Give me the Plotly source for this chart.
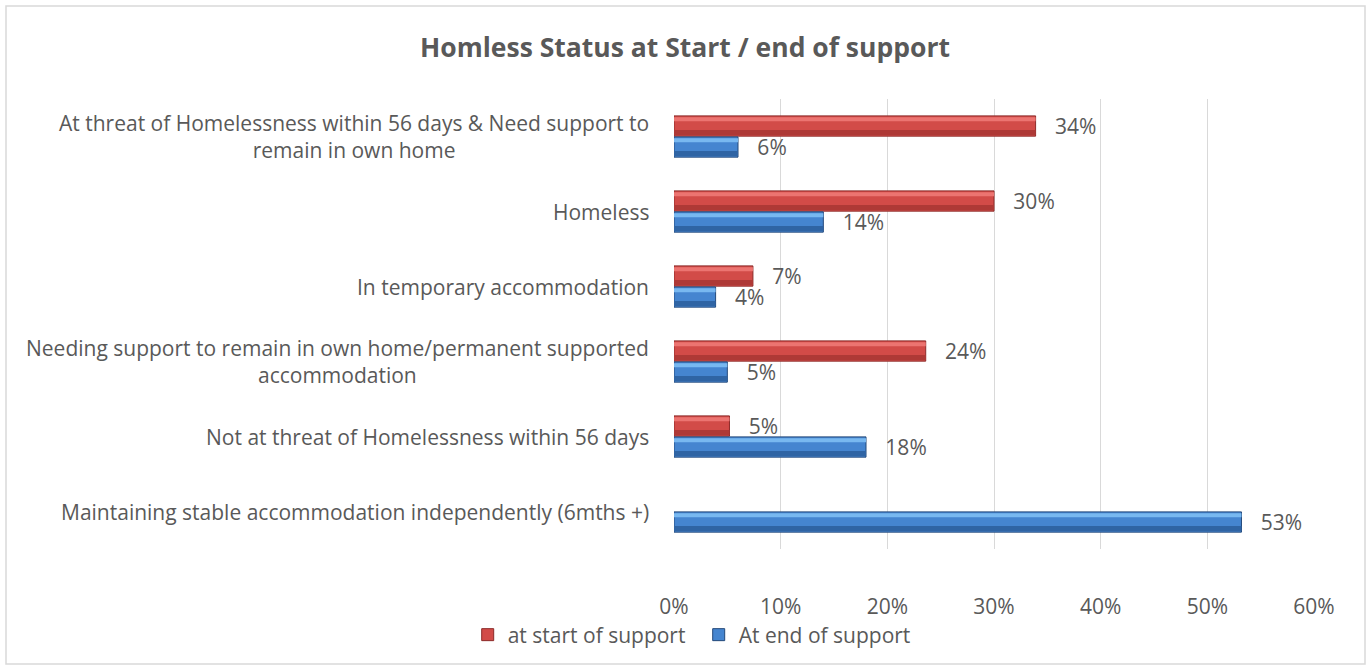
import plotly.graph_objects as go

# Categories, top to bottom
categories = [
    "At threat of Homelessness within 56 days & Need support to<br>remain in own home",
    "Homeless",
    "In temporary accommodation",
    "Needing support to remain in own home/permanent supported<br>accommodation",
    "Not at threat of Homelessness within 56 days",
    "Maintaining stable accommodation independently (6mths +)",
]
start_of_support = [0.339, 0.300, 0.074, 0.236, 0.052, None]
end_of_support = [0.060, 0.140, 0.039, 0.050, 0.180, 0.532]
x_ticks = [0, 0.1, 0.2, 0.3, 0.4, 0.5, 0.6]

FONT = "Open Sans"
GREY = "#595959"
W, H = 1370, 670
ML, MR, MT, MB = 674, 56, 99, 121

BAR_W = 0.27   # thickness of one bar in category units
GAP = 0.01

series = [
    dict(name="at start of support", values=start_of_support, offset=-BAR_W - GAP / 2,
         dark="#AE3936", mid="#D24B48", light="#EC7471", edge="#8C2B29"),
    dict(name="At end of support", values=end_of_support, offset=GAP / 2,
         dark="#2F64A4", mid="#4585D0", light="#78B8F0", edge="#23497A"),
]

fig = go.Figure()
for s in series:
    # body of the bar, carries the legend entry and the value label
    fig.add_trace(go.Bar(
        y=categories, x=s["values"], orientation="h", name=s["name"],
        offset=s["offset"], width=BAR_W,
        marker=dict(color=s["mid"], line=dict(color=s["edge"], width=1)),
        texttemplate="\u00a0\u00a0\u00a0%{x:.0%}", textposition="outside",
        constraintext="none",
        textfont=dict(family=FONT, size=21, color=GREY), cliponaxis=False,
    ))
    # lower shade strip
    fig.add_trace(go.Bar(
        y=categories, x=s["values"], orientation="h", showlegend=False, hoverinfo="skip",
        offset=s["offset"] + BAR_W * 0.70, width=BAR_W * 0.25,
        marker=dict(color=s["dark"], line=dict(width=0)),
    ))
    # upper highlight strip
    fig.add_trace(go.Bar(
        y=categories, x=s["values"], orientation="h", showlegend=False, hoverinfo="skip",
        offset=s["offset"] + BAR_W * 0.07, width=BAR_W * 0.20,
        marker=dict(color=s["light"], line=dict(width=0)),
    ))

# Category labels, centred multi-line text right-aligned against the axis
for cat in categories:
    fig.add_annotation(
        x=0, xref="paper", xanchor="right", xshift=-23,
        y=cat, yref="y", yanchor="middle",
        text=cat, showarrow=False, align="center",
        font=dict(family=FONT, size=21, color=GREY),
    )

# Chart-area border
fig.add_shape(
    type="rect", xref="paper", yref="paper",
    x0=(6 - ML) / (W - ML - MR), x1=(1365 - ML) / (W - ML - MR),
    y0=-(664 - (H - MB)) / (H - MT - MB), y1=1 + (MT - 6) / (H - MT - MB),
    line=dict(color="#D9D9D9", width=1.5), fillcolor="rgba(0,0,0,0)", layer="below",
)

fig.update_layout(
    width=W, height=H,
    margin=dict(l=ML, r=MR, t=MT, b=MB, autoexpand=False),
    paper_bgcolor="white", plot_bgcolor="white",
    barmode="overlay",
    title=dict(text="<b>Homless Status at Start / end of support</b>",
               x=0.5, xref="container", xanchor="center",
               y=1 - 48 / H, yref="container", yanchor="middle",
               font=dict(family=FONT, size=26.5, color=GREY)),
    xaxis=dict(range=[0, 0.6], tickvals=x_ticks, tickformat=".0%",
               showgrid=True, gridcolor="#D9D9D9", gridwidth=1,
               zeroline=False, showline=False, ticks="", automargin=False,
               tickfont=dict(family=FONT, size=21, color=GREY), ticklabelstandoff=43),
    yaxis=dict(type="category", autorange="reversed", showticklabels=False,
               showgrid=False, zeroline=False, showline=False, ticks="", automargin=False),
    legend=dict(orientation="h", x=0.51, xref="container", xanchor="center",
                y=1 - 635 / H, yref="container", yanchor="middle",
                bgcolor="rgba(0,0,0,0)",
                font=dict(family=FONT, size=21, color=GREY),
                traceorder="normal", itemwidth=30, entrywidthmode="pixels", entrywidth=186),
    showlegend=True,
)

fig.write_html("out.html")
